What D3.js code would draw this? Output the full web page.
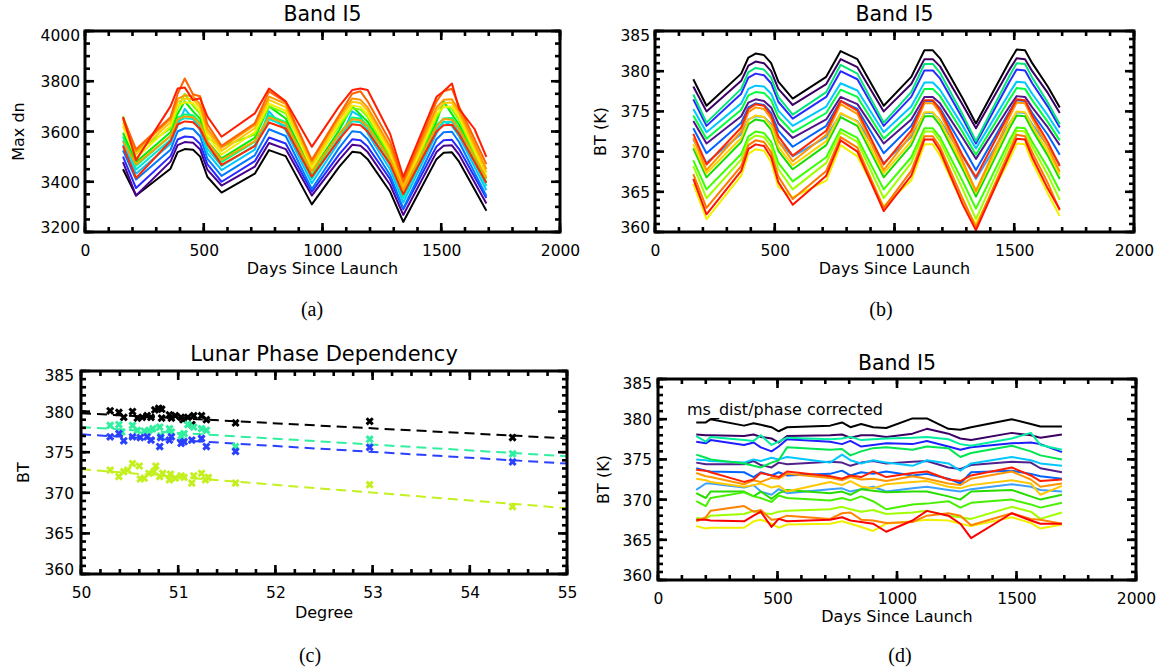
<!DOCTYPE html>
<html>
<head>
<meta charset="utf-8">
<script src="https://cdn.jsdelivr.net/npm/d3@7"></script>
<style>
  body { margin: 0; background: #fff; }
  svg { display: block; }
  text { font-family: "DejaVu Sans", sans-serif; fill: #000; }
</style>
</head>
<body>
<svg id="fig" width="1158" height="669"></svg>
<script>
// ---- panel (a) / (b): days since launch shared by all detector lines
const daysAB = [160, 215, 360, 390, 420, 455, 485, 515, 575, 715, 775, 845, 955, 1070, 1125, 1160, 1190, 1285, 1340, 1480, 1510, 1545, 1575, 1640, 1690];

// (a) Max dn, one row per detector
const dnColors = ['#000000', '#4b0090', '#2828ff', '#0078ff', '#00c8ff', '#00e6d2', '#00ff78', '#00f000',
                  '#78ff00', '#f0f000', '#ffc800', '#ff9600', '#ffa000', '#ff2800', '#ff6400', '#ff1e00'];
const dnLines = [
  [3450,3345,3452,3518,3530,3527,3500,3420,3357,3432,3526,3502,3310,3459,3519,3515,3490,3360,3240,3490,3515,3517,3480,3370,3285],
  [3478,3345,3480,3546,3558,3555,3528,3448,3385,3460,3554,3530,3345,3487,3547,3543,3518,3388,3268,3518,3543,3545,3508,3398,3313],
  [3500,3375,3502,3568,3580,3577,3550,3470,3400,3482,3576,3552,3360,3509,3569,3565,3540,3410,3290,3540,3565,3567,3530,3420,3335],
  [3525,3409,3527,3600,3613,3610,3580,3492,3423,3505,3609,3582,3371,3535,3601,3597,3569,3426,3294,3569,3597,3599,3558,3437,3343],
  [3548,3432,3550,3623,3690,3650,3603,3515,3446,3528,3680,3605,3394,3558,3680,3660,3592,3449,3317,3592,3640,3622,3581,3460,3366],
  [3565,3449,3567,3640,3653,3650,3620,3532,3463,3545,3649,3622,3411,3575,3641,3637,3609,3466,3334,3609,3637,3639,3598,3477,3383],
  [3580,3464,3582,3655,3668,3665,3635,3547,3478,3560,3664,3637,3426,3590,3656,3652,3624,3481,3349,3624,3652,3654,3613,3492,3398],
  [3595,3479,3597,3670,3720,3680,3650,3562,3493,3575,3700,3652,3441,3605,3700,3667,3639,3496,3364,3639,3720,3669,3628,3507,3413],
  [3660,3520,3612,3692,3750,3702,3670,3574,3540,3588,3701,3672,3470,3621,3693,3688,3658,3502,3358,3658,3700,3690,3646,3514,3412],
  [3620,3494,3622,3702,3716,3712,3680,3584,3508,3598,3711,3682,3452,3631,3703,3698,3668,3512,3368,3668,3698,3700,3656,3524,3422],
  [3635,3509,3637,3717,3731,3727,3695,3599,3523,3613,3726,3697,3467,3646,3718,3713,3683,3527,3383,3683,3713,3715,3671,3539,3437],
  [3648,3522,3650,3730,3744,3740,3708,3612,3536,3626,3739,3710,3480,3659,3731,3726,3696,3540,3396,3696,3726,3728,3684,3552,3450],
  [3560,3470,3582,3648,3660,3657,3630,3560,3487,3562,3656,3632,3440,3589,3649,3645,3620,3490,3370,3620,3650,3647,3610,3500,3415],
  [3542,3415,3562,3628,3640,3637,3610,3550,3467,3542,3636,3612,3420,3569,3629,3625,3600,3470,3350,3600,3625,3627,3590,3480,3395],
  [3655,3529,3657,3750,3811,3747,3740,3630,3543,3633,3760,3717,3487,3666,3750,3760,3720,3560,3403,3720,3760,3770,3700,3570,3470],
  [3658,3486,3700,3771,3775,3725,3732,3660,3579,3672,3771,3720,3539,3700,3765,3771,3765,3590,3419,3738,3760,3791,3690,3610,3499]
];

// (b) BT (K), one row per detector
const btColors = ['#000000', '#3c0064', '#50148c', '#2828ff', '#0064ff', '#3ca0ff', '#00c8ff', '#00e678', '#00ff3c',
                  '#14dc00', '#3cff00', '#a0ff00', '#ffd200', '#f0f000', '#ff9600', '#ff7800', '#ff2800', '#ff1400'];
const btLines = [
  [379.0,375.7,379.7,381.7,382.2,382.0,381.0,378.7,376.6,379.3,382.5,381.5,375.7,379.3,382.6,382.6,381.6,376.6,373.5,381.2,382.7,382.6,381.0,378.1,375.5],
  [378.1,375.0,378.8,380.7,381.2,381.0,380.0,377.8,375.8,378.4,381.5,380.5,375.0,378.4,381.5,381.5,380.6,375.8,372.9,380.2,381.6,381.5,380.0,377.3,374.8],
  [373.8,371.0,374.4,376.1,376.5,376.3,375.5,373.5,371.7,374.0,376.8,375.9,371.0,374.0,376.8,376.8,376.0,371.7,369.1,375.6,376.9,376.8,375.5,373.0,370.8],
  [376.5,373.2,377.2,379.2,379.7,379.5,378.5,376.2,374.1,376.8,380.0,379.0,373.2,376.8,380.1,380.1,379.1,374.1,371.0,378.7,380.2,380.1,378.5,375.6,373.0],
  [372.9,369.8,373.6,375.5,376.0,375.8,374.8,372.6,370.6,373.2,376.3,375.3,369.8,373.2,376.3,376.3,375.4,370.6,367.7,375.0,376.4,376.3,374.8,372.1,369.6],
  [371.5,368.6,372.2,374.0,374.4,374.3,373.4,371.3,369.4,371.8,374.7,373.8,368.6,371.8,374.8,374.8,373.9,369.4,366.6,373.5,374.9,374.8,373.4,370.7,368.4],
  [375.3,372.4,376.0,377.8,378.2,378.1,377.2,375.1,373.2,375.6,378.5,377.6,372.4,375.6,378.6,378.6,377.7,373.2,370.4,377.3,378.7,378.6,377.2,374.5,372.2],
  [377.1,373.6,377.8,379.9,380.4,380.2,379.2,376.8,374.6,377.4,380.8,379.7,373.6,377.4,380.9,380.9,379.8,374.6,371.3,379.4,381.0,380.9,379.2,376.1,373.4],
  [374.5,371.6,375.2,377.0,377.4,377.3,376.4,374.3,372.4,374.8,377.7,376.8,371.6,374.8,377.8,377.8,376.9,372.4,369.6,376.5,377.9,377.8,376.4,373.7,371.4],
  [370.4,366.8,371.2,373.4,374.0,373.8,372.7,370.1,367.8,370.8,374.3,373.2,366.8,370.8,374.4,374.4,373.3,367.8,364.4,372.9,374.5,374.4,372.7,369.5,366.6],
  [368.9,365.3,369.7,371.9,372.5,372.3,371.2,368.6,366.3,369.3,372.8,371.7,365.3,369.3,372.9,372.9,371.8,366.3,362.9,371.4,373.0,372.9,371.2,368.0,365.1],
  [368.2,364.2,369.0,371.4,372.0,371.8,370.6,367.8,365.3,368.6,372.4,371.2,364.2,368.6,372.5,372.5,371.3,365.3,361.6,370.8,372.6,372.5,370.6,367.1,364.0],
  [370.9,367.3,371.7,373.9,374.5,374.3,373.2,370.6,368.3,371.3,374.8,373.7,367.3,371.3,374.9,374.9,373.8,368.3,364.9,373.4,375.0,374.9,373.2,370.0,367.1],
  [366.0,361.6,367.0,369.7,370.3,370.1,368.7,365.6,364.3,366.4,370.8,369.4,363.2,366.4,370.9,370.9,369.5,363.5,361.0,369.0,371.0,370.9,368.7,364.8,362.0],
  [371.7,367.7,372.5,374.9,375.5,375.3,374.1,371.3,368.8,372.1,375.9,374.7,367.7,372.1,376.0,376.0,374.8,368.8,365.1,374.3,376.1,376.0,374.1,370.6,367.5],
  [367.2,363.0,368.2,370.8,371.4,371.2,369.9,366.9,364.1,367.6,371.8,370.5,363.0,367.6,371.9,371.9,370.6,364.1,360.6,370.1,372.1,371.9,369.9,366.1,362.7],
  [372.2,368.4,373.0,375.3,375.9,375.7,374.5,371.9,369.5,372.6,376.3,375.1,368.4,372.6,376.4,376.4,375.2,369.5,366.8,374.8,376.5,376.4,374.5,371.2,368.2],
  [366.6,362.2,367.6,370.3,370.9,370.7,369.3,366.2,363.4,367.0,371.4,370.0,362.6,367.0,371.5,371.5,370.1,363.4,360.2,369.6,371.6,371.5,369.3,365.4,362.8]
];

// ---- panel (c): lunar phase dependency, four detectors
const phaseColors = ['#000000', '#30f0a0', '#2a40ff', '#c4f020'];
const phaseDeg = [
  [50.30,50.39,50.44,50.53,50.58,50.63,50.68,50.72,50.76,50.80,50.83,50.83,50.91,50.93,50.97,51.03,51.05,51.10,51.14,51.16,51.24,51.29,51.59,52.97,54.44],
  [50.30,50.39,50.42,50.53,50.58,50.65,50.70,50.74,50.81,50.82,50.91,50.93,51.03,51.06,51.10,51.16,51.24,51.29,51.59,52.97,54.44],
  [50.30,50.39,50.44,50.53,50.61,50.68,50.72,50.81,50.82,50.91,50.93,51.03,51.06,51.14,51.24,51.29,51.59,52.97,54.44],
  [50.30,50.39,50.44,50.48,50.53,50.60,50.61,50.65,50.70,50.75,50.77,50.81,50.84,50.91,50.92,50.97,51.03,51.06,51.14,51.16,51.24,51.28,51.31,51.59,52.97,54.44]
];
const phaseBT = [
  [380.1,379.9,379.3,380.0,379.2,379.3,379.5,379.3,380.2,380.4,380.3,379.2,379.6,379.2,379.5,379.3,379.0,379.3,378.4,379.5,379.5,379.0,378.6,378.8,376.8],
  [378.3,378.4,377.5,378.3,377.7,377.6,377.7,377.9,378.1,377.0,377.9,377.5,377.0,377.3,378.4,378.1,377.9,377.7,375.7,376.6,374.8],
  [376.9,377.3,376.4,376.9,376.8,376.9,376.5,375.7,376.8,376.5,376.9,376.1,376.3,376.5,376.7,375.7,375.1,375.6,373.8],
  [372.8,372.0,372.6,372.8,373.6,373.3,371.7,371.8,372.4,372.6,373.3,372.0,372.4,371.6,372.3,371.8,372.1,371.9,371.2,372.1,372.4,371.6,371.9,371.2,371.0,368.3]
];
const fitDeg = [50, 55];
const fitBT = [[379.8, 376.7], [378.1, 374.5], [377.2, 373.6], [372.9, 368.1]];

// ---- panel (d): corrected BT
const daysD = [160, 200, 220, 360, 400, 430, 475, 505, 540, 720, 770, 805, 850, 900, 955, 1065, 1125, 1215, 1265, 1310, 1480, 1560, 1600, 1690];
const corrColors = ['#000000', '#3c0064', '#50208c', '#1e1eff', '#0064ff', '#3ca0ff', '#00c8ff', '#00f0a0', '#00e650',
                    '#28dc00', '#46f000', '#a0ff00', '#ffc800', '#f0f000', '#ff9600', '#ff8200', '#ff1e00', '#ff0000'];
const corrLines = [
  [379.6,379.6,380.0,379.2,379.5,379.3,379.0,378.5,379.0,379.2,379.6,379.0,379.4,379.0,378.9,380.1,380.1,378.8,378.7,379.0,380.0,379.4,379.1,379.1],
  [378.1,378.0,378.0,377.9,378.1,377.8,377.6,377.1,377.9,378.0,378.1,377.7,378.0,378.0,377.8,378.2,378.8,378.2,377.6,377.4,378.3,378.0,377.7,378.1],
  [374.6,374.4,374.4,374.4,374.8,374.3,374.0,374.6,374.4,374.7,374.6,374.2,374.6,374.8,374.5,374.7,374.8,374.0,373.8,374.3,374.7,374.6,373.9,373.4],
  [377.2,377.0,377.4,376.8,377.1,376.5,376.0,376.6,377.5,377.2,376.9,377.3,376.6,376.8,377.0,376.9,377.3,376.6,376.2,376.5,377.0,377.1,376.9,375.9],
  [373.9,373.6,373.5,373.4,372.8,373.4,373.0,373.4,373.0,373.2,373.6,373.0,373.4,373.2,373.5,373.0,373.2,372.6,372.0,373.4,373.6,373.2,372.9,372.6],
  [371.2,372.0,372.0,371.5,371.8,371.0,370.6,371.3,370.8,371.3,371.4,371.0,371.3,371.6,371.0,371.4,371.6,371.2,371.0,371.3,371.9,371.6,371.2,371.0],
  [375.0,374.9,374.8,374.6,375.0,374.8,375.2,375.0,375.3,374.6,375.6,374.9,374.5,374.9,374.6,374.2,374.9,374.5,373.6,374.5,375.3,374.9,374.5,374.2],
  [377.9,377.2,377.8,377.4,377.3,378.0,376.8,377.2,377.7,377.5,377.6,377.8,377.4,377.5,377.6,377.7,377.8,377.5,376.9,376.7,377.6,378.3,376.8,376.2],
  [375.6,375.2,375.0,374.5,374.2,374.0,374.6,374.9,376.5,376.2,376.3,375.5,376.0,376.4,376.5,376.2,376.6,376.4,375.3,375.8,376.7,376.0,375.5,375.0],
  [370.8,370.2,371.0,371.0,370.4,371.0,370.1,370.8,371.2,370.8,371.0,370.6,371.3,371.1,370.9,371.0,371.0,370.4,370.0,371.0,371.2,370.4,370.0,370.6],
  [369.8,369.2,370.2,370.9,370.4,370.2,369.7,370.5,370.2,369.9,370.2,369.9,370.4,369.8,368.8,369.4,369.5,369.8,369.0,369.6,370.0,369.4,369.0,369.6],
  [367.7,367.6,368.0,368.2,368.6,368.3,368.2,368.5,368.6,368.8,369.1,368.8,368.5,368.7,368.2,368.4,368.6,368.0,367.8,367.6,369.1,368.5,367.6,368.4],
  [372.6,372.4,372.2,371.6,371.8,372.0,371.5,371.7,371.0,372.2,371.8,372.3,371.6,371.4,371.9,372.2,372.3,371.6,371.4,371.8,372.4,372.0,370.6,371.7],
  [366.7,366.4,366.5,366.5,367.3,367.5,367.0,366.5,366.9,367.0,367.3,367.0,366.6,366.1,367.0,367.3,367.5,367.4,367.0,366.7,367.8,367.1,366.4,366.9],
  [373.3,372.9,372.8,371.9,372.4,372.2,372.7,372.6,373.2,372.7,372.4,372.8,372.5,372.6,372.3,372.9,372.6,372.0,371.8,372.6,373.5,372.5,371.6,372.0],
  [367.3,367.8,368.6,369.2,368.5,368.7,367.5,367.6,368.0,367.6,368.3,368.4,367.5,367.4,367.1,367.2,368.0,368.3,368.0,366.8,368.3,367.6,367.5,367.0],
  [373.7,373.6,373.4,372.2,372.5,373.3,373.0,372.8,373.5,372.9,372.6,373.0,372.8,373.5,372.8,373.3,373.5,372.5,372.3,373.0,374.0,373.0,372.3,372.5],
  [367.5,367.5,367.4,367.3,368.0,368.5,366.6,367.6,367.3,367.5,367.8,367.4,367.2,367.0,366.0,367.4,368.6,368.0,367.0,365.2,368.3,367.4,367.0,367.0]
];

const svg = d3.select('#fig');

// IDL-like box: inward ticks on all four sides, labels on left and bottom
function makePanel(c) {
  const g = svg.append('g');
  const x = d3.scaleLinear().domain(c.xd).range([c.x0, c.x1]);
  const y = d3.scaleLinear().domain(c.yd).range([c.y1, c.y0]);
  const eps = 1e-9;
  const xMaj = d3.range(c.xd[0], c.xd[1] + eps, c.xs[0]);
  const xMin = d3.range(c.xd[0], c.xd[1] + eps, c.xs[1]);
  const yMaj = d3.range(c.yd[0], c.yd[1] + eps, c.ys[0]);
  const yMin = d3.range(c.yd[0], c.yd[1] + eps, c.ys[1]);
  c.g = g; c.x = x; c.y = y;

  c.axes = function () {
    const tw = 2.6;
    // ticks as small filled rects, pointing into the box from all four edges
    const xTicks = (vals, len) => {
      [c.y1 - len, c.y0].forEach(top => {
        g.append('g').selectAll('rect').data(vals).join('rect')
          .attr('x', d => x(d) - tw / 2).attr('y', top)
          .attr('width', tw).attr('height', len).attr('fill', '#000');
      });
    };
    const yTicks = (vals, len) => {
      [c.x0, c.x1 - len].forEach(left => {
        g.append('g').selectAll('rect').data(vals).join('rect')
          .attr('x', left).attr('y', d => y(d) - tw / 2)
          .attr('width', len).attr('height', tw).attr('fill', '#000');
      });
    };
    xTicks(xMin, 5); xTicks(xMaj, 9);
    yTicks(yMin, 5); yTicks(yMaj, 9);

    const xb = g.append('g').attr('transform', `translate(0,${c.y1})`)
      .call(d3.axisBottom(x).tickValues(xMaj).tickSize(0).tickFormat(d3.format('d')));
    const yl = g.append('g').attr('transform', `translate(${c.x0},0)`)
      .call(d3.axisLeft(y).tickValues(yMaj).tickSize(0).tickFormat(d3.format('d')));
    [xb, yl].forEach(a => {
      a.select('.domain').remove();
      a.selectAll('.tick line').remove();
      a.attr('font-family', null).attr('font-size', null);
    });
    xb.selectAll('text').attr('y', 18).attr('dy', '0.36em').attr('font-size', 15.5);
    yl.selectAll('text').attr('x', -c.gap).attr('dy', '0.36em').attr('font-size', 15.5)
      .attr('y', d => Math.abs(d - c.yd[1]) < eps ? 4 : (Math.abs(d - c.yd[0]) < eps ? -5 : 0));

    g.append('rect').attr('x', c.x0).attr('y', c.y0)
      .attr('width', c.x1 - c.x0).attr('height', c.y1 - c.y0)
      .attr('fill', 'none').attr('stroke', '#000').attr('stroke-width', 3);

    const cx = (c.x0 + c.x1) / 2;
    g.append('text').attr('x', cx).attr('y', c.titleY).attr('text-anchor', 'middle')
      .attr('font-size', c.titleSize).text(c.title);
    g.append('text').attr('x', cx).attr('y', c.xlabY).attr('text-anchor', 'middle')
      .attr('font-size', 16).text(c.xlab);
    g.append('text').attr('transform', `translate(${c.ylabX},${(c.y0 + c.y1) / 2}) rotate(-90)`)
      .attr('text-anchor', 'middle').attr('font-size', 16).text(c.ylab);
    g.append('text').attr('x', c.capX).attr('y', c.capY).attr('text-anchor', 'middle')
      .style('font-family', '"Liberation Serif", "Times New Roman", serif')
      .attr('font-size', 20).text(c.cap);
  };
  return c;
}

function drawLines(p, days, rows, colors) {
  const line = d3.line().x((d, i) => p.x(days[i])).y(d => p.y(d));
  p.g.append('g').selectAll('path').data(rows).join('path')
    .attr('d', line)
    .attr('fill', 'none')
    .attr('stroke', (d, i) => colors[i])
    .attr('stroke-width', 2)
    .attr('stroke-linejoin', 'round');
}

// (a)
const pa = makePanel({ x0: 85, x1: 560, y0: 31, y1: 232, xd: [0, 2000], yd: [3200, 4000],
  xs: [500, 100], ys: [200, 50], gap: 5, title: 'Band I5', titleY: 20.5, titleSize: 20.5,
  xlab: 'Days Since Launch', xlabY: 273.5, ylab: 'Max dn', ylabX: 24, cap: '(a)', capX: 312, capY: 316 });
drawLines(pa, daysAB, dnLines, dnColors);
pa.axes();

// (b)
const pb = makePanel({ x0: 655, x1: 1134, y0: 31, y1: 232, xd: [0, 2000], yd: [360, 385],
  xs: [500, 100], ys: [5, 1], gap: 5, title: 'Band I5', titleY: 20.5, titleSize: 20.5,
  xlab: 'Days Since Launch', xlabY: 273.5, ylab: 'BT (K)', ylabX: 606, cap: '(b)', capX: 881, capY: 316 });
drawLines(pb, daysAB, btLines, btColors);
pb.axes();

// (c)
const pc = makePanel({ x0: 81, x1: 567, y0: 371, y1: 574, xd: [50, 55], yd: [360, 385],
  xs: [1, 0.2], ys: [5, 1], gap: 7, title: 'Lunar Phase Dependency', titleY: 361, titleSize: 21,
  xlab: 'Degree', xlabY: 618, ylab: 'BT', ylabX: 29, cap: '(c)', capX: 310, capY: 662 });
const fitLine = d3.line().x((d, i) => pc.x(fitDeg[i])).y(d => pc.y(d));
pc.g.append('g').selectAll('path').data(fitBT).join('path')
  .attr('d', fitLine).attr('fill', 'none')
  .attr('stroke', (d, i) => phaseColors[i]).attr('stroke-width', 2)
  .attr('stroke-dasharray', '10,6');
const xMark = d3.symbol(d3.symbolTimes || d3.symbolCross, 26);
phaseBT.forEach((vals, s) => {
  pc.g.append('g').selectAll('path').data(vals).join('path')
    .attr('transform', (d, i) => `translate(${pc.x(phaseDeg[s][i])},${pc.y(d)})`)
    .attr('d', xMark)
    .attr('fill', d3.symbolTimes ? 'none' : phaseColors[s])
    .attr('stroke', phaseColors[s]).attr('stroke-width', 3);
});
pc.axes();

// (d)
const pd = makePanel({ x0: 658, x1: 1136, y0: 379, y1: 580, xd: [0, 2000], yd: [360, 385],
  xs: [500, 100], ys: [5, 1], gap: 6, title: 'Band I5', titleY: 369.5, titleSize: 20.5,
  xlab: 'Days Since Launch', xlabY: 622, ylab: 'BT (K)', ylabX: 609, cap: '(d)', capX: 900, capY: 662 });
drawLines(pd, daysD, corrLines, corrColors);
pd.axes();
pd.g.append('text').attr('x', 687).attr('y', 415).attr('font-size', 16).text('ms_dist/phase corrected');
</script>
</body>
</html>
